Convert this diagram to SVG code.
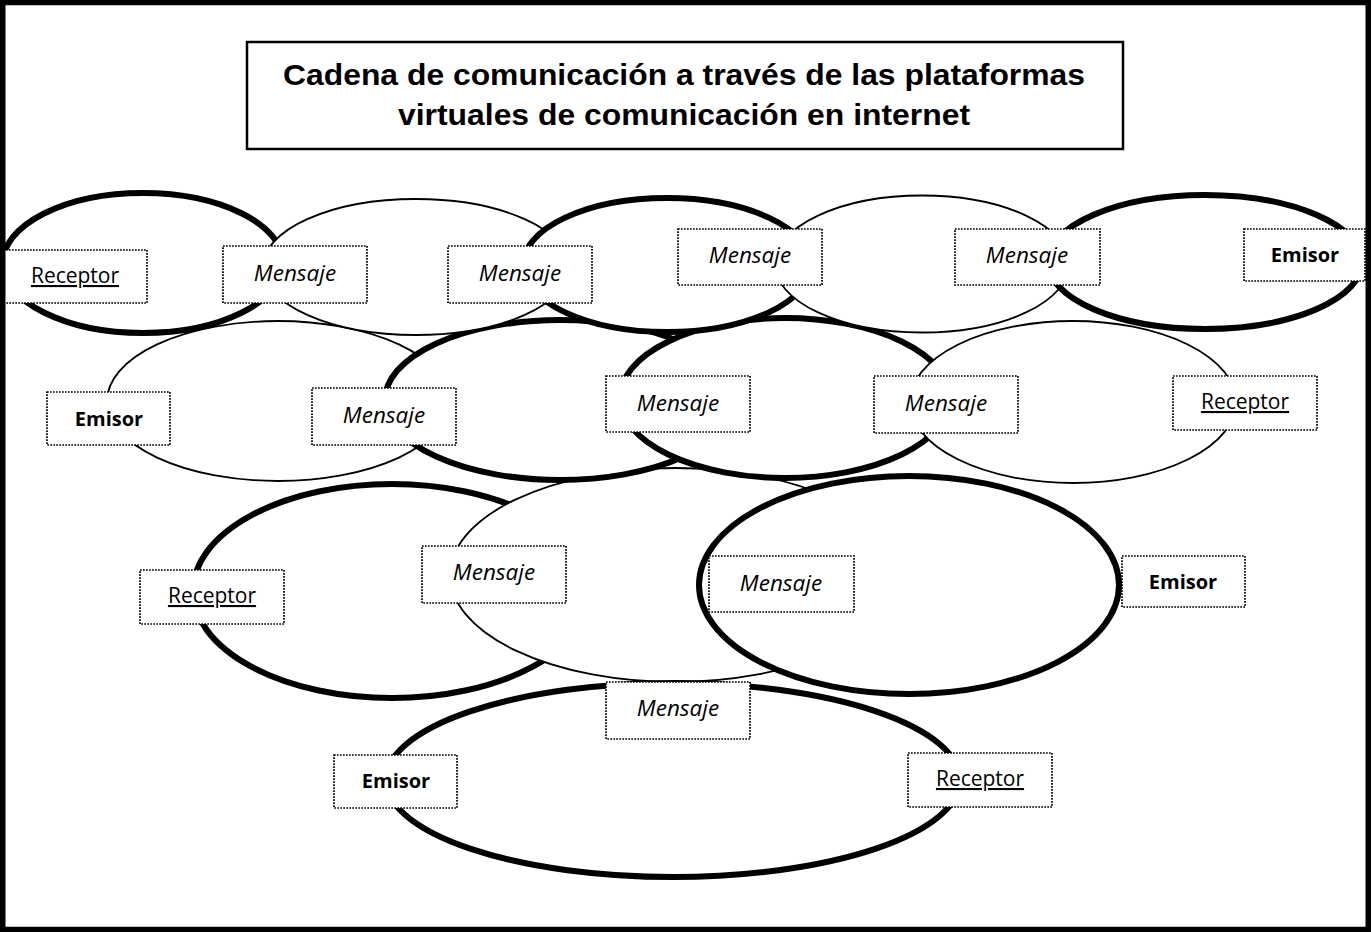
<svg xmlns="http://www.w3.org/2000/svg" width="1372" height="932" viewBox="0 0 1372 932">
<style>
.thick{fill:#fff;stroke:#000;stroke-width:6}
.thin{fill:#fff;stroke:#000;stroke-width:1.8}
.box{fill:#fff;stroke:#000;stroke-width:1.7;stroke-dasharray:1.7 1.3}
.lbl{font-family:"Open Sans","Noto Sans",sans-serif;font-size:21px;fill:#000;text-anchor:middle}
.msg{font-style:italic;font-size:22.5px}
.emi{font-weight:bold;font-size:20px}
.rec{text-decoration:underline}
.title{font-family:"Liberation Sans",Arial,sans-serif;font-weight:bold;font-size:30px;text-anchor:middle;fill:#000}
</style>
<rect x="0" y="0" width="1372" height="932" fill="#fff"/>
<g id="title">
<rect x="247" y="42" width="876" height="107" fill="#fff" stroke="#000" stroke-width="2.5"/>
<text class="title" x="684" y="85" textLength="802" lengthAdjust="spacingAndGlyphs">Cadena de comunicación a través de las plataformas</text>
<text class="title" x="684" y="125" textLength="572" lengthAdjust="spacingAndGlyphs">virtuales de comunicación en internet</text>
</g>
<g id="connectors">
<ellipse class="thick" cx="392" cy="591" rx="199" ry="107"/>
<ellipse class="thin" cx="675" cy="575" rx="225" ry="107"/>
<ellipse class="thick" cx="909" cy="585" rx="210" ry="109"/>
<ellipse class="thin" cx="278" cy="401" rx="171" ry="80"/>
<ellipse class="thick" cx="560" cy="400" rx="175" ry="80"/>
<ellipse class="thick" cx="785" cy="398" rx="165" ry="80"/>
<ellipse class="thin" cx="1073" cy="402" rx="163" ry="81"/>
<ellipse class="thick" cx="143" cy="263" rx="140" ry="70"/>
<ellipse class="thin" cx="416" cy="267" rx="153" ry="68"/>
<ellipse class="thick" cx="667" cy="265" rx="144" ry="67"/>
<ellipse class="thin" cx="922" cy="264" rx="147" ry="68.5"/>
<ellipse class="thick" cx="1205" cy="262" rx="157" ry="67"/>
<ellipse class="thick" cx="673" cy="780" rx="287" ry="97"/>
</g>
<g id="n1"><rect class="box" x="3" y="250" width="144" height="53"/><text class="lbl rec" x="75" y="283">Receptor</text></g>
<g id="n2"><rect class="box" x="223" y="246" width="144" height="57"/><text class="lbl msg" x="295" y="281">Mensaje</text></g>
<g id="n3"><rect class="box" x="448" y="246" width="144" height="57"/><text class="lbl msg" x="520" y="281">Mensaje</text></g>
<g id="n4"><rect class="box" x="678" y="229" width="144" height="56"/><text class="lbl msg" x="750" y="263">Mensaje</text></g>
<g id="n5"><rect class="box" x="955" y="229" width="145" height="56"/><text class="lbl msg" x="1027" y="263">Mensaje</text></g>
<g id="n6"><rect class="box" x="1244" y="229" width="121" height="52"/><text class="lbl emi" x="1305" y="262">Emisor</text></g>
<g id="n7"><rect class="box" x="47" y="392" width="123" height="53"/><text class="lbl emi" x="109" y="426">Emisor</text></g>
<g id="n8"><rect class="box" x="312" y="388" width="144" height="57"/><text class="lbl msg" x="384" y="423">Mensaje</text></g>
<g id="n9"><rect class="box" x="606" y="376" width="144" height="56"/><text class="lbl msg" x="678" y="411">Mensaje</text></g>
<g id="n10"><rect class="box" x="874" y="376" width="144" height="57"/><text class="lbl msg" x="946" y="411">Mensaje</text></g>
<g id="n11"><rect class="box" x="1173" y="376" width="144" height="54"/><text class="lbl rec" x="1245" y="409">Receptor</text></g>
<g id="n12"><rect class="box" x="140" y="570" width="144" height="54"/><text class="lbl rec" x="212" y="603">Receptor</text></g>
<g id="n13"><rect class="box" x="422" y="546" width="144" height="57"/><text class="lbl msg" x="494" y="580">Mensaje</text></g>
<g id="n14"><rect class="box" x="709" y="556" width="145" height="56"/><text class="lbl msg" x="781" y="591">Mensaje</text></g>
<g id="n15"><rect class="box" x="1122" y="556" width="123" height="51"/><text class="lbl emi" x="1183" y="589">Emisor</text></g>
<g id="n16"><rect class="box" x="606" y="682" width="144" height="57"/><text class="lbl msg" x="678" y="716">Mensaje</text></g>
<g id="n17"><rect class="box" x="334" y="755" width="123" height="53"/><text class="lbl emi" x="396" y="788">Emisor</text></g>
<g id="n18"><rect class="box" x="908" y="753" width="144" height="54"/><text class="lbl rec" x="980" y="786">Receptor</text></g>
<rect x="2.75" y="2.5" width="1365.5" height="927" fill="none" stroke="#000" stroke-width="5.5"/>
</svg>
